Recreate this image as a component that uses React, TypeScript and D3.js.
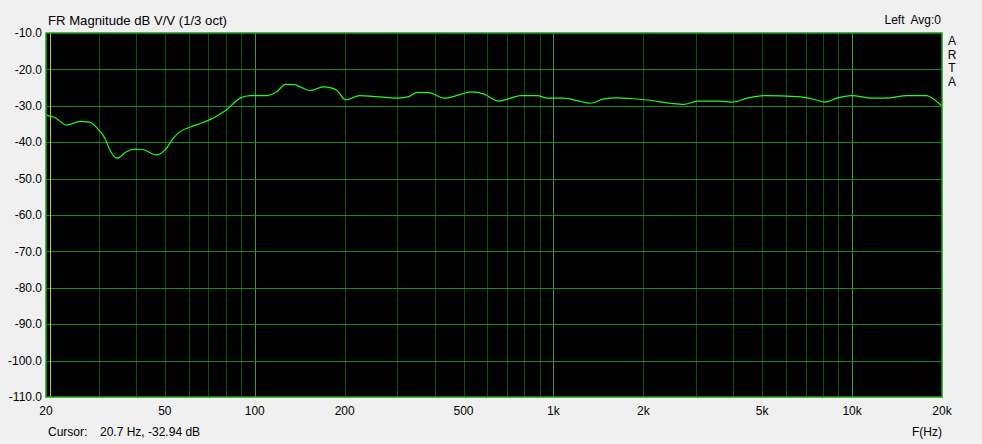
import React from "react";
import * as d3 from "d3";

const freqs = [20, 20.7, 21.1, 23.5, 26.0, 28.0, 29.7, 31.5, 32.7, 34.6, 37.2, 39.6, 42.1, 46.9, 50.1, 53.4, 56.2, 60.6, 67.1, 74.0, 80.1, 89.3, 96.6, 109.8, 118.7, 126.7, 135.0, 153.3, 169.6, 182.7, 188, 201.8, 224.5, 248.2, 274.5, 303.5, 328, 350, 383, 433, 492, 530, 586, 656, 718, 777, 882, 953, 1082, 1200, 1330, 1475, 1636, 1814, 2061, 2467, 2733, 3032, 3631, 3974, 4456, 5130, 6536, 7418, 8120, 8875, 9950, 11730, 13400, 15250, 17770, 18700, 19960];
const magnitudes = [-32.5, -32.9, -33.0, -35.3, -34.3, -34.5, -36.2, -38.9, -42.1, -44.4, -42.6, -41.9, -42.0, -43.5, -42.1, -38.9, -37.1, -35.9, -34.6, -33.0, -31.2, -27.9, -27.2, -27.2, -26.1, -24.1, -24.2, -25.8, -24.8, -25.2, -25.7, -28.4, -27.2, -27.4, -27.7, -27.9, -27.5, -26.3, -26.4, -27.9, -26.8, -26.2, -26.8, -28.7, -27.9, -27.2, -27.2, -27.9, -27.9, -28.6, -29.3, -28.1, -27.8, -28.0, -28.4, -29.3, -29.6, -28.7, -28.7, -29.0, -27.9, -27.2, -27.5, -28.2, -29.0, -27.9, -27.2, -27.9, -27.8, -27.2, -27.2, -28.1, -30.0];

const yTicks = [-10, -20, -30, -40, -50, -60, -70, -80, -90, -100, -110];
const xTickValues = [20, 50, 100, 200, 500, 1000, 2000, 5000, 10000, 20000];
const xTickLabels = ["20", "50", "100", "200", "500", "1k", "2k", "5k", "10k", "20k"];
const decadeLines = [100, 1000, 10000];
const cursorFreq = 20.7;
const artaLetters = ["A", "R", "T", "A"];

export default function App() {
  const W = 982, H = 444;
  const left = 46, right = 942, top = 33, bottom = 397;
  const x = d3.scaleLog().domain([20, 20000]).range([left, right]);
  const y = d3.scaleLinear().domain([-10, -110]).range([top, bottom]);

  const minor: number[] = [];
  for (const dec of [10, 100, 1000, 10000]) {
    for (let k = 1; k <= 9; k++) {
      const f = dec * k;
      if (f > 20 && f < 20000 && !decadeLines.includes(f)) minor.push(f);
    }
  }

  const line = d3
    .line<number>()
    .x((_, i) => x(freqs[i]))
    .y((d) => y(d))
    .curve(d3.curveMonotoneX);

  const font = "'Liberation Sans', Arial, sans-serif";

  return (
    <div style={{ position: "absolute", left: 0, top: 0 }}>
      <svg width={W} height={H} style={{ display: "block", background: "#f0f0f0" }} fontFamily={font} fontSize={12}>
        <rect x={0} y={0} width={W} height={H} fill="#f0f0f0" />
        <rect x={left} y={top} width={right - left} height={bottom - top} fill="#000" />
        {minor.map((f) => (
          <line key={"m" + f} x1={Math.round(x(f)) + 0.5} x2={Math.round(x(f)) + 0.5} y1={top} y2={bottom} stroke="#0d520d" strokeWidth={1} />
        ))}
        {decadeLines.map((f) => (
          <line key={"d" + f} x1={Math.round(x(f)) + 0.5} x2={Math.round(x(f)) + 0.5} y1={top} y2={bottom} stroke="#3f9a3f" strokeWidth={1} />
        ))}
        {yTicks.slice(1, -1).map((v) => (
          <line key={"h" + v} x1={left} x2={right} y1={Math.round(y(v)) + 0.5} y2={Math.round(y(v)) + 0.5} stroke="#1c8c1c" strokeWidth={1} />
        ))}
        <line x1={Math.round(x(cursorFreq)) + 0.5} x2={Math.round(x(cursorFreq)) + 0.5} y1={top} y2={bottom} stroke="#c8c800" strokeWidth={1} />
        <path d={line(magnitudes) || ""} fill="none" stroke="#1eff1e" strokeWidth={1.2} />
        <rect x={left} y={top} width={right - left} height={bottom - top} fill="none" stroke="#14a014" strokeWidth={1.5} />
        {yTicks.map((v) => (
          <text key={"yt" + v} x={42} y={y(v)} dy="0.35em" textAnchor="end" fill="#000">
            {v.toFixed(1)}
          </text>
        ))}
        {xTickValues.map((f, i) => (
          <text key={"xt" + f} x={x(f)} y={411} dy="0.35em" textAnchor="middle" fill="#000">
            {xTickLabels[i]}
          </text>
        ))}
        <text x={48} y={20} dy="0.35em" fill="#000" fontSize={13} textLength={179} lengthAdjust="spacingAndGlyphs">FR Magnitude dB V/V (1/3 oct)</text>
        <text x={941} y={20} dy="0.35em" textAnchor="end" fill="#000" xmlSpace="preserve">Left  Avg:0</text>
        {artaLetters.map((c, i) => (
          <text key={"a" + i} x={952} y={40.5 + i * 13.8} dy="0.35em" textAnchor="middle" fill="#000">{c}</text>
        ))}
        <text x={48} y={432} dy="0.35em" fill="#000">Cursor:</text>
        <text x={100} y={432} dy="0.35em" fill="#000">20.7 Hz, -32.94 dB</text>
        <text x={942} y={432} dy="0.35em" textAnchor="end" fill="#000">F(Hz)</text>
      </svg>
    </div>
  );
}
